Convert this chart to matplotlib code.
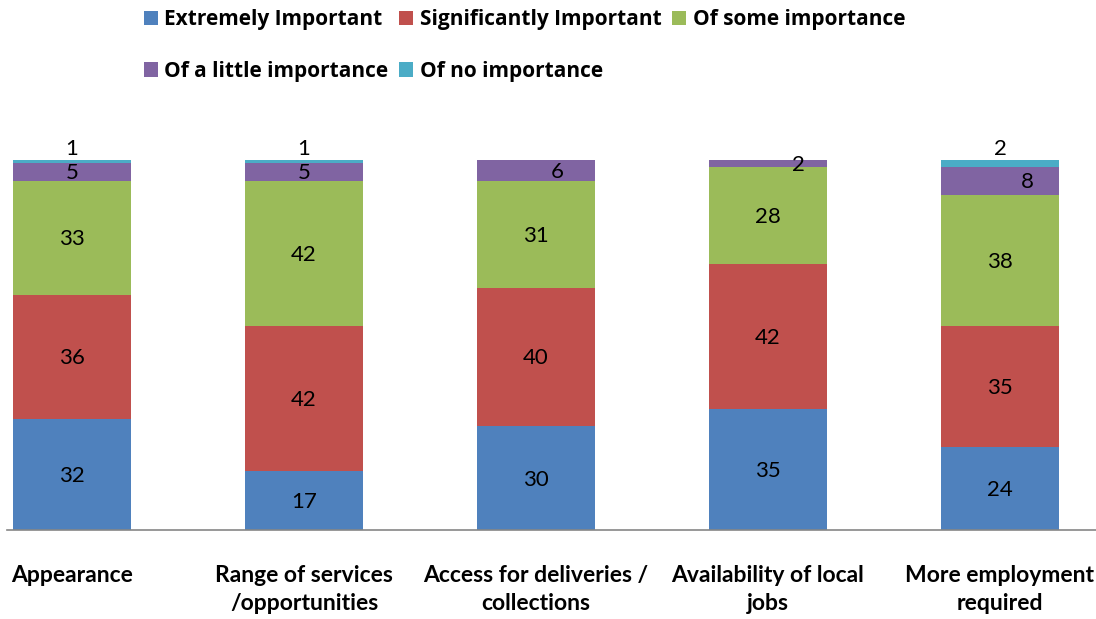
import numpy as np
import matplotlib.pyplot as plt

categories = ['Appearance', 'Range of services\n/opportunities', 'Access for deliveries /\ncollections',
              'Availability of local\njobs', 'More employment\nrequired']
series_names = ['Extremely Important', 'Significantly Important', 'Of some importance',
                'Of a little importance', 'Of no importance']
extremely = [32, 17, 30, 35, 24]
significantly = [36, 42, 40, 42, 35]
some = [33, 42, 31, 28, 38]
little = [5, 5, 6, 2, 8]
none_imp = [1, 1, 0, 0, 2]

colors = ['#4F81BD', '#C0504D', '#9BBB59', '#8064A2', '#4BACC6']
# Excel nudged a few of the small labels sideways
little_dx = [0, 0, 21, 30, 27]

fig = plt.figure(figsize=(10.96, 6.19), dpi=100)
ax = fig.add_axes([7 / 1096, 89 / 619, 1089 / 1096, 400 / 619])

x = np.arange(len(categories))
data = [extremely, significantly, some, little, none_imp]
bottom = np.zeros(len(categories))
handles = []
for i, vals in enumerate(data):
    vals = np.array(vals, dtype=float)
    b = ax.bar(x, vals, width=0.51, bottom=bottom, color=colors[i], label=series_names[i], zorder=2)
    handles.append(b)
    for j, v in enumerate(vals):
        if v == 0:
            continue
        if i == 4:
            ax.annotate(str(int(v)), (x[j], bottom[j] + v), xytext=(0, 1), textcoords='offset points',
                        ha='center', va='bottom', fontsize=16, family='Lato')
        else:
            dx = little_dx[j] * 0.72 if i == 3 else 0
            ax.annotate(str(int(v)), (x[j], bottom[j] + v / 2), xytext=(dx, -1), textcoords='offset points',
                        ha='center', va='center', fontsize=16, family='Lato')
    bottom += vals

ax.set_xlim(-0.28, 4.414)
ax.set_ylim(0, 400 / (370 / 107))
ax.set_xticks(x)
ax.set_xticklabels(categories, fontsize=16.5, fontweight='bold', family='Lato', linespacing=1.4)
ax.tick_params(axis='x', length=0, pad=25)
ax.set_yticks([])
for s in ['top', 'right', 'left']:
    ax.spines[s].set_visible(False)
ax.spines['bottom'].set_color('#868686')
ax.spines['bottom'].set_linewidth(1.2)

# legend fills by column, so reorder to get rows like the original
order = [0, 3, 1, 4, 2]
fig.legend([handles[k] for k in order], [series_names[k] for k in order],
           loc='upper left', bbox_to_anchor=(131 / 1096, 1.005), ncol=3, frameon=False,
           prop={'family': 'Open Sans', 'weight': 'bold', 'size': 15},
           handlelength=0.7, handleheight=0.7, handletextpad=0.3, columnspacing=0.5,
           labelspacing=1.45, borderaxespad=0.2)

fig.savefig('out.png', dpi=100)
